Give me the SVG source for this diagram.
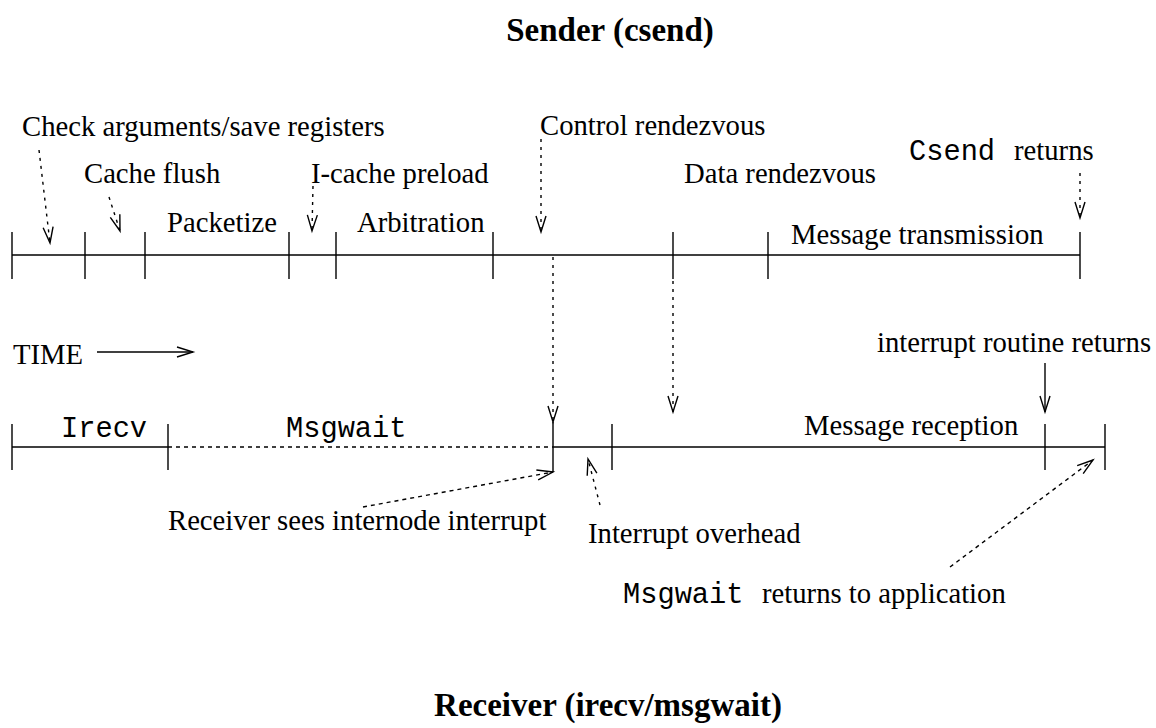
<svg xmlns="http://www.w3.org/2000/svg" width="1156" height="728" viewBox="0 0 1156 728">
  <style>
    .t { font-family: "Liberation Serif", "Times New Roman", serif; font-size: 28.7px; fill: #000; }
    .m { font-family: "Liberation Mono", "Courier New", monospace; font-size: 28.7px; fill: #000; }
    .h { font-family: "Liberation Serif", "Times New Roman", serif; font-size: 33px; font-weight: bold; fill: #000; }
    .ln { stroke: #000; stroke-width: 1.4; fill: none; }
    .dot { stroke: #000; stroke-width: 1.4; fill: none; stroke-dasharray: 3 5; }
    .dsh { stroke: #000; stroke-width: 1.4; fill: none; stroke-dasharray: 4 4; }
  </style>
  <defs>
    <marker id="vee" markerUnits="userSpaceOnUse" markerWidth="24" markerHeight="16" viewBox="-20 -8 24 16" refX="0" refY="0" orient="auto">
      <path d="M -16 -5 L 0 0 L -16 5" fill="none" stroke="#000" stroke-width="1.4"/>
    </marker>
  </defs>

  <!-- titles -->
  <text class="h" x="610" y="41" text-anchor="middle">Sender (csend)</text>
  <text class="h" x="608" y="716" text-anchor="middle">Receiver (irecv/msgwait)</text>

  <!-- sender timeline -->
  <g id="sender-line">
    <line class="ln" x1="12" y1="255" x2="1080" y2="255"/>
    <path class="ln" d="M12 232V279 M85 232V279 M145 232V279 M289 232V279 M336 232V279 M493 232V279 M673 232V279 M768 232V279 M1080 232V279"/>
  </g>

  <!-- receiver timeline -->
  <g id="receiver-line">
    <line class="ln" x1="12" y1="447" x2="168" y2="447"/>
    <line class="dsh" x1="168" y1="447" x2="553" y2="447"/>
    <line class="ln" x1="553" y1="447" x2="1105" y2="447"/>
    <path class="ln" d="M12 424V470 M168 424V470 M553 422V472 M612 424V470 M1045 424V470 M1105 424V470"/>
  </g>

  <!-- sender phase labels -->
  <g id="sender-labels">
    <text class="t" x="22" y="136">Check arguments/save registers</text>
    <text class="t" x="84" y="183">Cache flush</text>
    <text class="t" x="311" y="183">I-cache preload</text>
    <text class="t" x="167" y="232">Packetize</text>
    <text class="t" x="357" y="232">Arbitration</text>
    <text class="t" x="540" y="135">Control rendezvous</text>
    <text class="t" x="684" y="183">Data rendezvous</text>
    <text x="0" y="160"><tspan class="m" x="909">Csend</tspan><tspan class="t" x="1014">returns</tspan></text>
    <text class="t" x="791" y="244">Message transmission</text>
  </g>

  <!-- time direction -->
  <g id="time">
    <text class="t" x="13" y="364">TIME</text>
    <line class="ln" x1="97" y1="352" x2="193" y2="352" marker-end="url(#vee)"/>
  </g>

  <!-- receiver phase labels -->
  <g id="receiver-labels">
    <text class="m" x="61" y="437">Irecv</text>
    <text class="m" x="286" y="437">Msgwait</text>
    <text class="t" x="804" y="435">Message reception</text>
    <text class="t" x="877" y="352">interrupt routine returns</text>
    <text class="t" x="168" y="530">Receiver sees internode interrupt</text>
    <text class="t" x="588" y="543">Interrupt overhead</text>
    <text x="0" y="603"><tspan class="m" x="623">Msgwait</tspan><tspan class="t" x="762">returns to application</tspan></text>
  </g>

  <!-- connectors -->
  <g id="connectors">
    <line class="dot" x1="39" y1="150" x2="50" y2="243" marker-end="url(#vee)"/>
    <line class="dot" x1="109" y1="197" x2="120" y2="231" marker-end="url(#vee)"/>
    <line class="dot" x1="313" y1="186" x2="312" y2="231" marker-end="url(#vee)"/>
    <line class="dot" x1="541" y1="139" x2="541" y2="232" marker-end="url(#vee)"/>
    <line class="dot" x1="1080" y1="173" x2="1080" y2="218" marker-end="url(#vee)"/>
    <line class="dot" x1="553" y1="257" x2="553" y2="422" marker-end="url(#vee)"/>
    <line class="dot" x1="673" y1="281" x2="673" y2="412" marker-end="url(#vee)"/>
    <line class="dsh" x1="363" y1="507" x2="553" y2="472" marker-end="url(#vee)"/>
    <line class="dot" x1="600" y1="505" x2="588" y2="459" marker-end="url(#vee)"/>
    <line class="dsh" x1="950" y1="567" x2="1093" y2="460" marker-end="url(#vee)"/>
    <line class="ln" x1="1045" y1="363" x2="1045" y2="412" marker-end="url(#vee)"/>
  </g>
</svg>
